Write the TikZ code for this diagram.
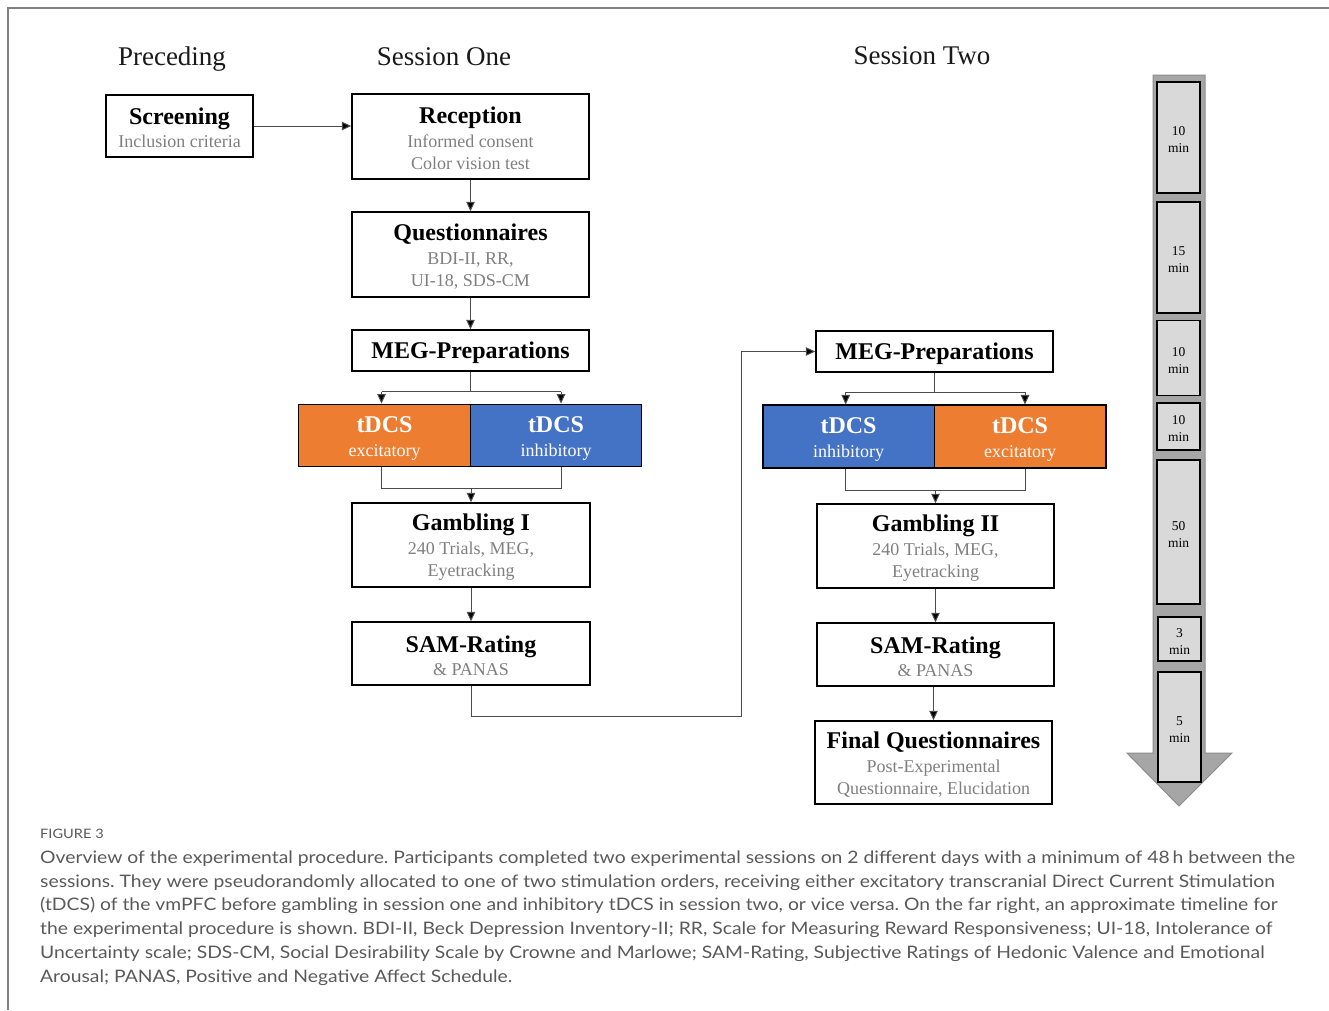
\documentclass[tikz,border=0pt]{standalone}
\usepackage{fontspec}
\setmainfont{Liberation Serif}
\newfontfamily\capfont[FakeStretch=1.123]{Lato}
\usetikzlibrary{arrows.meta,calc}
\frenchspacing
\definecolor{subgray}{HTML}{7F7F7F}
\definecolor{tdorange}{HTML}{ED7D31}
\definecolor{tdblue}{HTML}{4472C4}
\definecolor{shaftgray}{HTML}{A6A6A6}
\definecolor{shaftedge}{HTML}{8C8C8C}
\definecolor{slotgray}{HTML}{D9D9D9}
\definecolor{capgray}{HTML}{595959}
\newcommand{\hd}{\fontsize{24}{25}\selectfont\bfseries\rule{0pt}{20.5pt}}
\newcommand{\thd}{\fontsize{24}{25}\selectfont\bfseries\rule{0pt}{22pt}}
\newcommand{\sbt}{\color{subgray}}
\newcommand{\slotstrut}{\rule{0pt}{13.5pt}}
\tikzset{
  stepbox/.style={draw=black, line width=1.5pt, inner sep=0pt, align=center,
    font=\fontsize{18}{22}\selectfont},
  stimbox/.style={draw=black, line width=1.5pt, inner sep=0pt, align=center,
    text=white, font=\fontsize{18}{22}\selectfont, minimum height=62pt},
  conn/.style={draw=black!70, line width=1pt},
  arr/.style={conn, -{Triangle[length=9.5pt,width=8.5pt,fill=black]}},
  slot/.style={draw=black, line width=1.2pt, fill=slotgray, minimum width=43pt,
    inner sep=0pt, align=center, font=\fontsize{13.5}{17}\selectfont},
  title/.style={font=\fontsize{27}{30}\selectfont, text=black!90},
  capline/.style={anchor=base west, inner sep=0pt, text=capgray,
    font=\capfont\fontsize{17.2}{20}\selectfont\frenchspacing}
}
\begin{document}
\begin{tikzpicture}[x=1pt,y=-1pt]
\useasboundingbox (0,0) rectangle (1329,1010);
% frame
\draw[draw=black!50, line width=1.5pt] (8,1010) -- (8,8) -- (1329,8);

% titles
\node[title] (tpre) at (172,59.5) {Preceding};
\node[title] (tone) at (444,57) {Session One};
\node[title] (ttwo) at (922,56) {Session Two};

% session one
\node[stepbox, minimum width=147pt, minimum height=62pt] (scr) at (179.5,126)
  {{\hd Screening}\\[1pt]{\sbt Inclusion criteria}};
\node[stepbox, minimum width=237pt, minimum height=85pt] (rec) at (470.5,136.5)
  {{\hd Reception}\\[2pt]{\sbt Informed consent}\\{\sbt Color vision test}};
\node[stepbox, minimum width=237pt, minimum height=85pt] (que) at (470.5,254.5)
  {{\hd Questionnaires}\\[2pt]{\sbt BDI-II, RR,}\\{\sbt UI-18, SDS-CM}};
\node[stepbox, minimum width=237pt, minimum height=41pt] (megA) at (470.5,350.5)
  {{\hd MEG-Preparations}};
\node[stimbox, fill=tdorange, minimum width=172pt] (tAe) at (384.5,435.3)
  {{\thd tDCS}\\[2pt]excitatory};
\node[stimbox, fill=tdblue, minimum width=171pt] (tAi) at (556,435.3)
  {{\thd tDCS}\\[2pt]inhibitory};
\node[stepbox, minimum width=238pt, minimum height=84pt] (gamA) at (471,545)
  {{\hd Gambling I}\\[2pt]{\sbt 240 Trials, MEG,}\\{\sbt Eyetracking}};
\node[stepbox, minimum width=238pt, minimum height=63pt] (samA) at (471,653.5)
  {{\hd SAM-Rating}\\[1pt]{\sbt \& PANAS}};

% session two
\node[stepbox, minimum width=237pt, minimum height=41pt] (megB) at (934.5,351.5)
  {{\hd MEG-Preparations}};
\node[stimbox, fill=tdblue, minimum width=171.5pt, minimum height=63pt] (tBi) at (848.5,436.7)
  {{\thd tDCS}\\[2pt]inhibitory};
\node[stimbox, fill=tdorange, minimum width=171.5pt, minimum height=63pt] (tBe) at (1020,436.7)
  {{\thd tDCS}\\[2pt]excitatory};
\node[stepbox, minimum width=237pt, minimum height=84pt] (gamB) at (935.5,546)
  {{\hd Gambling II}\\[2pt]{\sbt 240 Trials, MEG,}\\{\sbt Eyetracking}};
\node[stepbox, minimum width=237pt, minimum height=63pt] (samB) at (935.5,654.5)
  {{\hd SAM-Rating}\\[1pt]{\sbt \& PANAS}};
\node[stepbox, minimum width=237pt, minimum height=83pt] (fin) at (933.5,762.5)
  {{\hd Final Questionnaires}\\[2pt]{\sbt Post-Experimental}\\{\sbt Questionnaire, Elucidation}};

% connectors session one
\draw[arr] (scr.east) -- (scr.east -| rec.west);
\draw[arr] (rec.south) -- (que.north);
\draw[arr] (que.south) -- (megA.north);
\coordinate (bAl) at (381.5,391.7);
\coordinate (bAr) at (561,391.7);
\draw[conn] (megA.south) -- (megA.south |- bAl);
\draw[conn] (bAl) -- (bAr);
\draw[arr] (bAl) -- (bAl |- tAe.north);
\draw[arr] (bAr) -- (bAr |- tAi.north);
\coordinate (cAl) at (381.5,488.5);
\coordinate (cAr) at (561,488.5);
\draw[conn] (cAl |- tAe.south) -- (cAl) -- (cAr) -- (cAr |- tAi.south);
\draw[arr] (gamA.north |- cAl) -- (gamA.north);
\draw[arr] (gamA.south) -- (samA.north);

% link between sessions
\coordinate (lk1) at (471,716.7);
\coordinate (lk2) at (741.3,716.7);
\draw[arr] (samA.south) -- (lk1) -- (lk2) -- (lk2 |- megB.west) -- (megB.west);

% connectors session two
\coordinate (bBl) at (845.7,392.3);
\coordinate (bBr) at (1025,392.3);
\draw[conn] (megB.south) -- (megB.south |- bBl);
\draw[conn] (bBl) -- (bBr);
\draw[arr] (bBl) -- (bBl |- tBi.north);
\draw[arr] (bBr) -- (bBr |- tBe.north);
\coordinate (cBl) at (845.7,490);
\coordinate (cBr) at (1025,490);
\draw[conn] (cBl |- tBi.south) -- (cBl) -- (cBr) -- (cBr |- tBe.south);
\draw[arr] (gamB.north |- cBl) -- (gamB.north);
\draw[arr] (gamB.south) -- (samB.north);
\draw[arr] (fin.north |- samB.south) -- (fin.north);

% timeline
\draw[fill=shaftgray, draw=shaftedge, line width=1pt]
  (1153,75) -- (1205,75) -- (1205,753) -- (1232,753) -- (1179,806)
  -- (1127,753) -- (1153,753) -- cycle;
\node[slot, minimum height=111pt] (s1) at (1178.5,137.5) {\slotstrut 10\\min};
\node[slot, minimum height=111pt] (s2) at (1178.5,257.5) {\slotstrut 15\\min};
\node[slot, minimum height=75pt] (s3) at (1178.5,358) {\slotstrut 10\\min};
\node[slot, minimum height=47pt] (s4) at (1178.5,426.5) {\slotstrut 10\\min};
\node[slot, minimum height=144pt] (s5) at (1178.5,532) {\slotstrut 50\\min};
\node[slot, minimum height=44pt] (s6) at (1179.5,639) {\slotstrut 3\\min};
\node[slot, minimum height=110pt] (s7) at (1179.5,727) {\slotstrut 5\\min};

% caption
\node[anchor=base west, inner sep=0pt, text=capgray,
  font=\capfont\fontsize{13}{15}\selectfont] (fig) at (40,838.5) {FIGURE 3};
\node[capline] (c1) at (40,863.5) {Overview of the experimental procedure. Participants completed two experimental sessions on 2 different days with a minimum of 48\,h between the};
\node[capline] (c2) at (40,887.2) {sessions. They were pseudorandomly allocated to one of two stimulation orders, receiving either excitatory transcranial Direct Current Stimulation};
\node[capline] (c3) at (40,910.9) {(tDCS) of the vmPFC before gambling in session one and inhibitory tDCS in session two, or vice versa. On the far right, an approximate timeline for};
\node[capline] (c4) at (40,934.6) {the experimental procedure is shown. BDI-II, Beck Depression Inventory-II; RR, Scale for Measuring Reward Responsiveness; UI-18, Intolerance of};
\node[capline] (c5) at (40,958.3) {Uncertainty scale; SDS-CM, Social Desirability Scale by Crowne and Marlowe; SAM-Rating, Subjective Ratings of Hedonic Valence and Emotional};
\node[capline] (c6) at (40,982) {Arousal; PANAS, Positive and Negative Affect Schedule.};
\end{tikzpicture}
\end{document}
